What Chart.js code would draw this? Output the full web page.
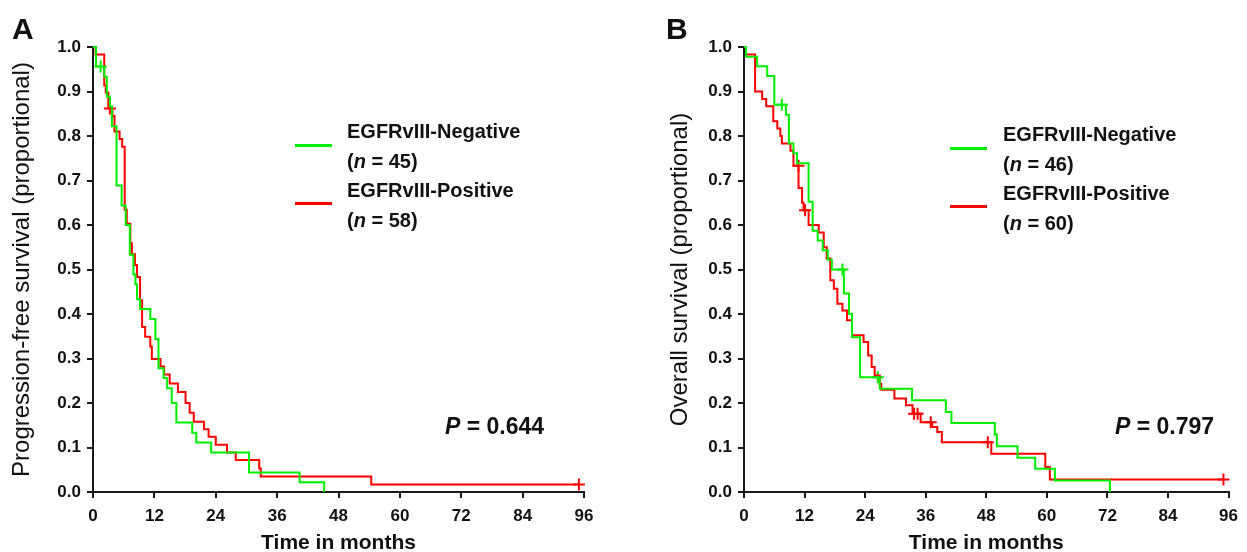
<!DOCTYPE html>
<html><head><meta charset="utf-8">
<script src="https://cdn.jsdelivr.net/npm/chart.js@4"></script>
<style>
html,body{margin:0;padding:0;background:#fff;overflow:hidden;width:1247px;height:552px;}
.box{position:absolute;top:0;height:555px;}
.t{position:absolute;font-family:'Liberation Sans',Arial,sans-serif;color:#111;white-space:nowrap;line-height:1;font-weight:bold;}
.leg{font-size:20px;}
.pv{font-size:23px;}
.lt{font-size:30px;}
.ln{position:absolute;height:3px;}
</style></head><body>
<div class="box" style="left:0;width:620px"><canvas id="cA"></canvas></div>
<div class="box" style="left:650px;width:597px"><canvas id="cB"></canvas></div>

<div class="t lt" style="left:12px;top:14px">A</div>
<div class="t lt" style="left:666px;top:14px">B</div>

<div class="ln" style="left:295px;top:144px;width:37px;background:#00ee00"></div>
<div class="t leg" style="left:347px;top:121px">EGFRvIII-Negative</div>
<div class="t leg" style="left:347px;top:151px">(<i>n</i> = 45)</div>
<div class="ln" style="left:295px;top:202px;width:37px;background:#ff0000"></div>
<div class="t leg" style="left:347px;top:180px">EGFRvIII-Positive</div>
<div class="t leg" style="left:347px;top:210px">(<i>n</i> = 58)</div>
<div class="t pv" style="left:445px;top:415px"><i>P</i> = 0.644</div>

<div class="ln" style="left:950px;top:147px;width:37px;background:#00ee00"></div>
<div class="t leg" style="left:1003px;top:124px">EGFRvIII-Negative</div>
<div class="t leg" style="left:1003px;top:154px">(<i>n</i> = 46)</div>
<div class="ln" style="left:950px;top:205px;width:37px;background:#ff0000"></div>
<div class="t leg" style="left:1003px;top:183px">EGFRvIII-Positive</div>
<div class="t leg" style="left:1003px;top:213px">(<i>n</i> = 60)</div>
<div class="t pv" style="left:1115px;top:415px"><i>P</i> = 0.797</div>

<script>
// ---- tick labels ----
const xTickValues = [0, 12, 24, 36, 48, 60, 72, 84, 96];
const yTickValues = [0, 0.1, 0.2, 0.3, 0.4, 0.5, 0.6, 0.7, 0.8, 0.9, 1.0];

// ---- Panel A: progression-free survival ----
const pfsNegMonths = [0, 0.6, 2.2, 2.7, 3.3, 3.7, 4.6, 5.6, 6.4, 7.2, 7.9, 8.3, 8.6, 9.2, 11.2, 12.2, 12.8, 13.8, 14.5, 15.4, 16.3, 19.4, 20.2, 23.1, 30.5, 40.4, 45.2];
const pfsNegSurv   = [1.0, 0.956, 0.933, 0.889, 0.867, 0.822, 0.689, 0.644, 0.6, 0.533, 0.489, 0.467, 0.433, 0.411, 0.389, 0.344, 0.278, 0.256, 0.233, 0.2, 0.156, 0.133, 0.111, 0.089, 0.044, 0.022, 0];
const pfsNegCensMonths = [1.5];
const pfsNegCensSurv   = [0.956];

const pfsPosMonths = [0, 0.5, 2.2, 2.5, 3.0, 3.8, 4.2, 5.2, 5.7, 6.2, 6.6, 7.3, 7.6, 8.2, 8.6, 9.2, 9.6, 10.2, 11.2, 11.5, 13.2, 13.9, 15.0, 16.6, 18.1, 18.9, 19.7, 21.7, 22.6, 24.0, 26.2, 27.9, 32.5, 32.8, 54.4, 95];
const pfsPosSurv   = [1.0, 0.983, 0.914, 0.897, 0.862, 0.845, 0.81, 0.793, 0.776, 0.634, 0.603, 0.559, 0.534, 0.51, 0.483, 0.431, 0.371, 0.349, 0.327, 0.299, 0.282, 0.264, 0.244, 0.225, 0.2, 0.178, 0.158, 0.141, 0.124, 0.106, 0.089, 0.072, 0.053, 0.035, 0.017, 0.017];
const pfsPosCensMonths = [3.3, 95];
const pfsPosCensSurv   = [0.862, 0.017];

// ---- Panel B: overall survival ----
const osNegMonths = [0, 0.4, 2.6, 4.6, 6.0, 8.3, 8.9, 9.8, 10.5, 12.8, 13.6, 14.6, 15.6, 16.6, 17.4, 19.8, 20.8, 21.4, 23.0, 26.9, 33.3, 40.0, 41.1, 49.7, 50.1, 54.2, 57.7, 61.6, 72.5];
const osNegSurv   = [1.0, 0.978, 0.957, 0.935, 0.87, 0.848, 0.783, 0.761, 0.739, 0.652, 0.587, 0.565, 0.543, 0.522, 0.5, 0.446, 0.4, 0.348, 0.258, 0.232, 0.206, 0.18, 0.155, 0.129, 0.103, 0.077, 0.052, 0.026, 0];
const osNegCensMonths = [7.5, 19.5, 26.5];
const osNegCensSurv   = [0.87, 0.5, 0.258];

const osPosMonths = [0, 0.4, 2.2, 3.6, 4.4, 5.8, 6.6, 7.2, 7.5, 9.2, 9.8, 10.8, 11.5, 11.8, 12.8, 14.8, 15.8, 16.4, 17.1, 17.8, 18.5, 19.5, 20.4, 21.4, 23.7, 24.6, 25.3, 25.9, 26.9, 27.2, 29.8, 32.1, 33.4, 35.0, 37.3, 38.3, 39.2, 49.0, 59.7, 60.6, 95];
const osPosSurv   = [1.0, 0.983, 0.9, 0.883, 0.867, 0.833, 0.817, 0.8, 0.783, 0.767, 0.733, 0.683, 0.65, 0.633, 0.6, 0.583, 0.55, 0.525, 0.476, 0.457, 0.423, 0.408, 0.386, 0.352, 0.337, 0.307, 0.281, 0.262, 0.243, 0.23, 0.21, 0.195, 0.176, 0.157, 0.146, 0.135, 0.112, 0.086, 0.056, 0.028, 0.028];
const osPosCensMonths = [10.8, 12.1, 33.7, 34.4, 37.0, 48.3, 95];
const osPosCensSurv   = [0.733, 0.633, 0.176, 0.176, 0.157, 0.112, 0.028];

const GREEN = '#00ee00', RED = '#ff0000', AXIS = '#1a1a1a';
Chart.defaults.font.family = "'Liberation Sans', Arial, sans-serif";
Chart.defaults.color = '#111';

function pts(xs, ys) { return xs.map((x, i) => ({x: x, y: ys[i]})); }

function curve(xs, ys, color) {
  return {data: pts(xs, ys), borderColor: color, borderWidth: 2, pointRadius: 0,
          stepped: true, tension: 0, fill: false, clip: false};
}
function censor(xs, ys, color) {
  return {data: pts(xs, ys), showLine: false, pointStyle: 'cross', pointRadius: 6,
          pointBorderColor: color, borderColor: color, pointBorderWidth: 2, clip: false};
}

function makeChart(id, yTitle, yAxisWidth, yTitlePad, rightPad, datasets) {
  return new Chart(document.getElementById(id), {
    type: 'line',
    data: {datasets: datasets},
    options: {
      responsive: true, maintainAspectRatio: false, animation: false,
      layout: {padding: {left: 0, top: 47, right: rightPad, bottom: 0}},
      plugins: {legend: {display: false}, tooltip: {enabled: false}},
      scales: {
        x: {
          type: 'linear', min: 0, max: 96,
          afterBuildTicks: s => { s.ticks = xTickValues.map(v => ({value: v})); },
          afterFit: s => { s.height = 63; },
          grid: {display: true, drawOnChartArea: false, drawTicks: true, tickLength: 6, color: AXIS, lineWidth: 2},
          border: {display: true, color: AXIS, width: 2},
          ticks: {padding: 8, font: {size: 17, weight: 'bold'}, color: '#111', maxRotation: 0,
                  callback: v => String(v)},
          title: {display: true, text: 'Time in months', font: {size: 21, weight: 'bold', lineHeight: 1},
                  padding: {top: 0, bottom: 1.5}, color: '#111'}
        },
        y: {
          type: 'linear', min: 0, max: 1,
          afterBuildTicks: s => { s.ticks = yTickValues.map(v => ({value: v})); },
          afterFit: s => { s.width = yAxisWidth; },
          grid: {display: true, drawOnChartArea: false, drawTicks: true, tickLength: 6, color: AXIS, lineWidth: 2},
          border: {display: true, color: AXIS, width: 2},
          ticks: {padding: 6, font: {size: 17, weight: 'bold'}, color: '#111',
                  callback: v => Number(v).toFixed(1)},
          title: {display: true, text: yTitle, font: {size: 24, weight: 'normal', lineHeight: 1},
                  padding: {top: yTitlePad, bottom: 0}, color: '#111'}
        }
      }
    }
  });
}

makeChart('cA', 'Progression-free survival (proportional)', 93, 10, 620 - 584, [
  curve(pfsNegMonths, pfsNegSurv, GREEN),
  curve(pfsPosMonths, pfsPosSurv, RED),
  censor(pfsNegCensMonths, pfsNegCensSurv, GREEN),
  censor(pfsPosCensMonths, pfsPosCensSurv, RED)
]);

makeChart('cB', 'Overall survival (proportional)', 94, 18, 597 - 578.5, [
  curve(osNegMonths, osNegSurv, GREEN),
  curve(osPosMonths, osPosSurv, RED),
  censor(osNegCensMonths, osNegCensSurv, GREEN),
  censor(osPosCensMonths, osPosCensSurv, RED)
]);
</script>
</body></html>
